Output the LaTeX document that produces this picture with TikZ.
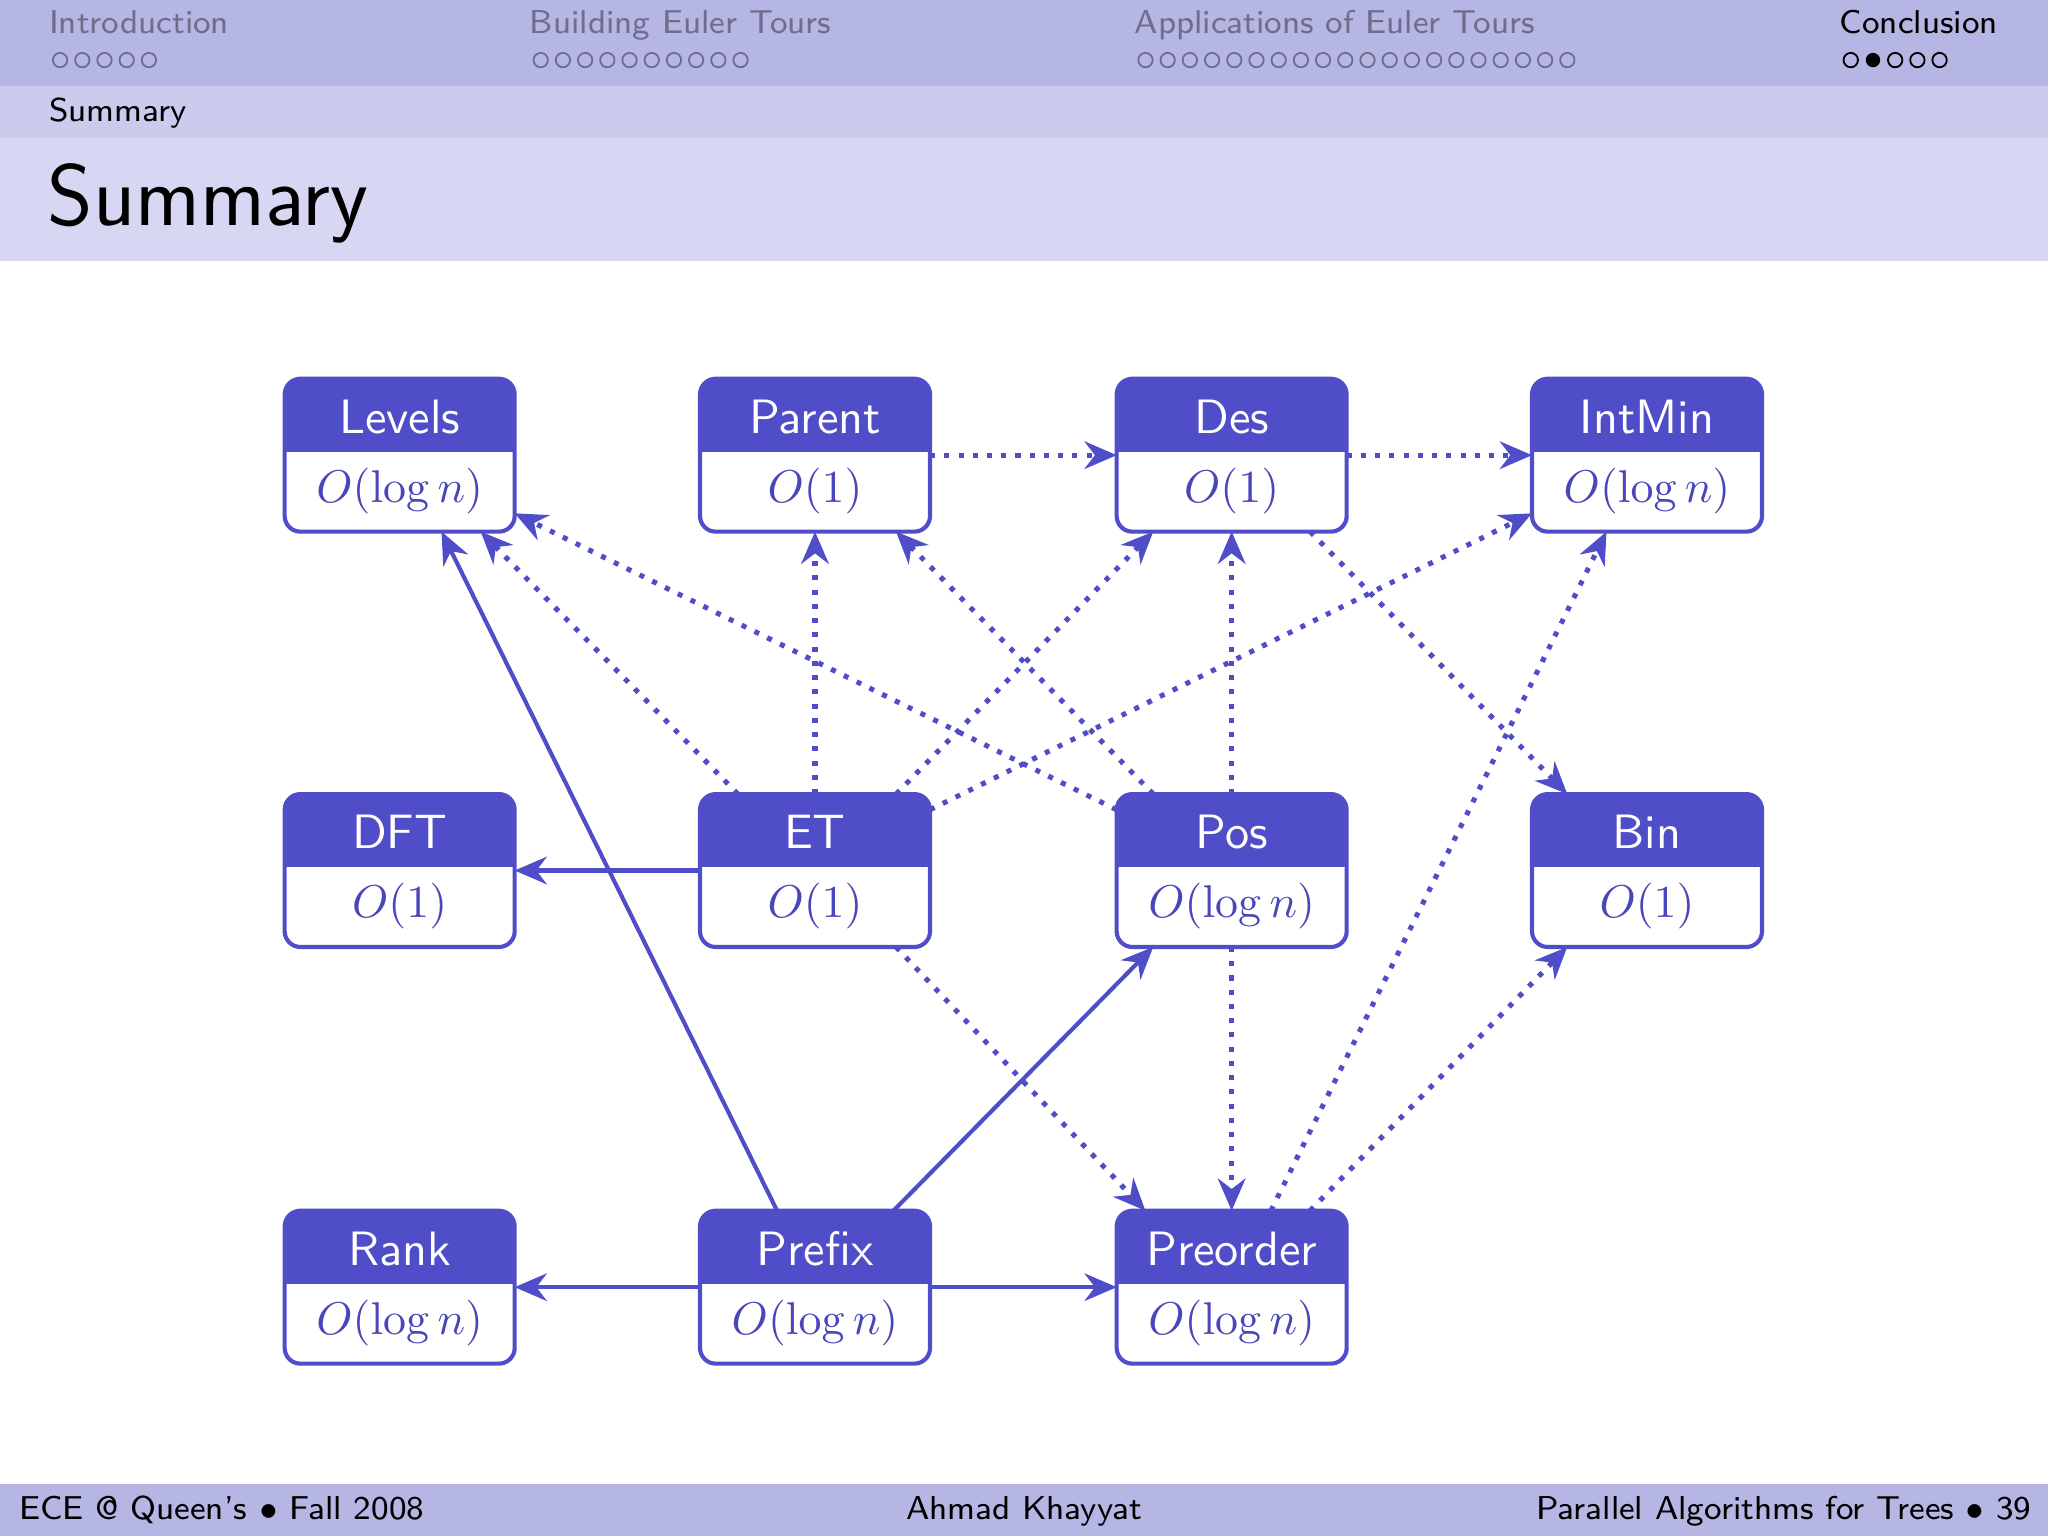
\documentclass[tikz,border=0pt]{standalone}
\usepackage{tikz}
\usetikzlibrary{arrows.meta,positioning}
\definecolor{boxblue}{RGB}{80,77,200}
\definecolor{valblue}{RGB}{72,70,185}
\definecolor{bandA}{RGB}{182,182,229}
\definecolor{bandB}{RGB}{203,203,238}
\definecolor{bandC}{RGB}{215,215,243}
\definecolor{navgray}{RGB}{110,110,140}
\newcommand\algbox[5]{%
  \node[algbox] (#1) at (#2,#3) {};
  \begin{scope}
    \clip[rounded corners=0.12cm] (#1.south west) rectangle (#1.north east);
    \fill[boxblue] (#1.north west) rectangle ([yshift=-0.56cm]#1.north east);
  \end{scope}
  \draw[boxblue,line width=0.9pt,rounded corners=0.12cm] (#1.south west) rectangle (#1.north east);
  \node[text=white] at ([yshift=-0.29cm]#1.north) {#4};
  \node[text=valblue,font=\fontsize{9.6}{12}\selectfont] at ([yshift=0.31cm]#1.south) {$#5$};}
\newcommand\navdots[4]{% x start, count, filled index
  \foreach \k in {1,...,#2} {
    \pgfmathtruncatemacro\isfull{\k==#3 ? 1 : 0}
    \ifnum\isfull=1
      \fill[#4] (#1+6+17*\k-17,46) circle (0.055cm);
    \else
      \draw[#4,line width=0.4pt] (#1+6+17*\k-17,46) circle (0.055cm);
    \fi}}
\begin{document}
\begin{tikzpicture}[x=0.01cm,y=-0.01cm,font=\sffamily\fontsize{10.5}{13}\selectfont,
 algbox/.style={minimum width=1.76cm,minimum height=1.17cm,inner sep=0pt,outer sep=0pt},
 solid arrow/.style={boxblue,line width=0.9pt,-{Stealth[length=7pt,width=6pt]}},
 dot arrow/.style={boxblue,line width=1.1pt,dotted,-{Stealth[length=7pt,width=6pt]}},
 headtext/.style={anchor=base west,inner sep=0pt,font=\sffamily\fontsize{7.2}{9}\selectfont}]

\useasboundingbox (0,0) rectangle (1568,1176);
% header and footer bands
\fill[bandA] (0,0) rectangle (1568,66);
\fill[bandB] (0,66) rectangle (1568,106);
\fill[bandC] (0,106) rectangle (1568,200);
\fill[bandA] (0,1136) rectangle (1568,1176);

\node[headtext,text=navgray] (intro) at (37,26) {Introduction};
\node[headtext,text=navgray] (build) at (405,26) {Building Euler Tours};
\node[headtext,text=navgray] (appl) at (868,26) {Applications of Euler Tours};
\node[headtext] (concl) at (1408,26) {Conclusion};
\navdots{40}{5}{0}{navgray}
\navdots{408}{10}{0}{navgray}
\navdots{871}{20}{0}{navgray}
\navdots{1411}{5}{2}{black}
\node[headtext] (sub) at (37,93) {Summary};
\node[headtext,font=\sffamily\fontsize{19}{23}\selectfont] (title) at (36,173) {Summary};

\node[headtext] (ftl) at (14,1163) {ECE @ Queen's $\bullet$ Fall 2008};
\node[headtext,anchor=base] (ftm) at (784,1163) {Ahmad Khayyat};
\node[headtext,anchor=base east] (ftr) at (1556,1163) {Parallel Algorithms for Trees $\bullet$ 39};

% boxes
\algbox{levels}{306}{348.5}{Levels}{O(\log n)}
\algbox{parent}{624}{348.5}{Parent}{O(1)}
\algbox{des}{943}{348.5}{Des}{O(1)}
\algbox{intmin}{1261}{348.5}{IntMin}{O(\log n)}
\algbox{dft}{306}{666.5}{DFT}{O(1)}
\algbox{et}{624}{666.5}{ET}{O(1)}
\algbox{pos}{943}{666.5}{Pos}{O(\log n)}
\algbox{bin}{1261}{666.5}{Bin}{O(1)}
\algbox{rank}{306}{985.5}{Rank}{O(\log n)}
\algbox{prefix}{624}{985.5}{Prefix}{O(\log n)}
\algbox{preorder}{943}{985.5}{Preorder}{O(\log n)}

% solid
\draw[solid arrow] (et.west) -- (dft.east);
\draw[solid arrow] (prefix.west) -- (rank.east);
\draw[solid arrow] (prefix.east) -- (preorder.west);
\draw[solid arrow] ([xshift=-0.29cm]prefix.north) -- ([xshift=0.32cm]levels.south);
\draw[solid arrow] ([xshift=0.6cm]prefix.north) -- ([xshift=-0.6cm]pos.south);

% dotted
\draw[dot arrow] (parent.east) -- (des.west);
\draw[dot arrow] (des.east) -- (intmin.west);
\draw[dot arrow] ([xshift=-0.59cm]et.north) -- ([xshift=0.62cm]levels.south);
\draw[dot arrow] (et.north) -- (parent.south);
\draw[dot arrow] ([xshift=0.62cm]et.north) -- ([xshift=-0.6cm]des.south);
\draw[dot arrow] ([yshift=-0.12cm]et.north east) -- ([yshift=0.14cm]intmin.south west);
\draw[dot arrow] ([xshift=0.62cm]et.south) -- ([xshift=-0.66cm]preorder.north);
\draw[dot arrow] ([yshift=-0.12cm]pos.north west) -- ([yshift=0.14cm]levels.south east);
\draw[dot arrow] ([xshift=-0.6cm]pos.north) -- ([xshift=0.62cm]parent.south);
\draw[dot arrow] (pos.north) -- (des.south);
\draw[dot arrow] (pos.south) -- (preorder.north);
\draw[dot arrow] ([xshift=0.6cm]des.south) -- ([xshift=-0.61cm]bin.north);
\draw[dot arrow] ([xshift=0.3cm]preorder.north) -- ([xshift=-0.31cm]intmin.south);
\draw[dot arrow] ([xshift=0.6cm]preorder.north) -- ([xshift=-0.61cm]bin.south);

\end{tikzpicture}
\end{document}
